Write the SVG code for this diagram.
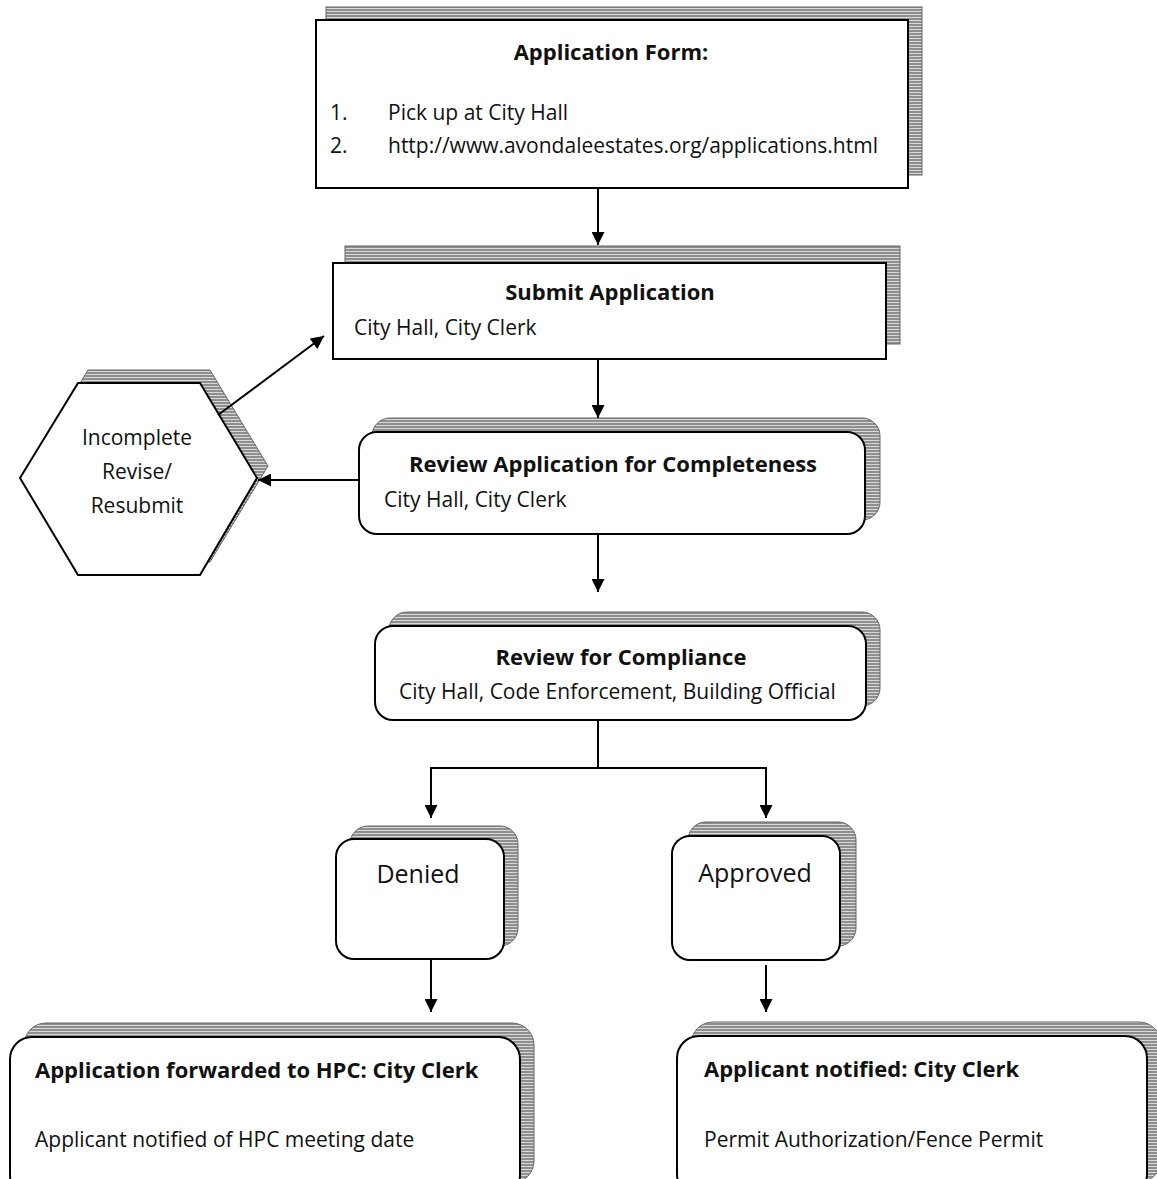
<svg xmlns="http://www.w3.org/2000/svg" width="1157" height="1179" viewBox="0 0 1157 1179">
<style>
.box{fill:#fff;stroke:#000;stroke-width:2}
.sh{fill:url(#hatch);stroke:#666;stroke-width:1}
.t{font-family:"Open Sans","Liberation Sans",sans-serif;font-size:21px;fill:#111}
.b{font-weight:bold;font-size:22px}
.c{text-anchor:middle}
.con{stroke:#000;stroke-width:2;fill:none;marker-end:url(#arr)}
</style>
<defs>
<pattern id="hatch" width="6" height="3" patternUnits="userSpaceOnUse">
<rect width="6" height="3" fill="#d8d8d8"/>
<line x1="0" y1="1" x2="6" y2="1" stroke="#444" stroke-width="1"/>
</pattern>
<marker id="arr" viewBox="0 0 10 10" refX="10" refY="5" markerWidth="14" markerHeight="13" markerUnits="userSpaceOnUse" orient="auto">
<path d="M0,0 L10,5 L0,10 z" fill="#000"/>
</marker>
</defs>

<g id="form">
<rect class="sh" x="326" y="7" width="596" height="168"/>
<rect class="box" x="316" y="20" width="592" height="168"/>
<text class="t b c" x="611" y="60">Application Form:</text>
<text class="t" x="330" y="120">1.</text>
<text class="t" x="388" y="120">Pick up at City Hall</text>
<text class="t" x="330" y="153">2.</text>
<text class="t" x="388" y="153">http://www.avondaleestates.org/applications.html</text>
</g>

<g id="submit">
<rect class="sh" x="345" y="246" width="555" height="98"/>
<rect class="box" x="333" y="263" width="553" height="96"/>
<text class="t b c" x="610" y="300">Submit Application</text>
<text class="t" x="354" y="335">City Hall, City Clerk</text>
</g>

<g id="incomplete">
<polygon class="sh" points="30,466 88,370 210,370 268,466 210,562 88,562"/>
<polygon class="box" points="20,478 78,383 200,383 257,478 200,575 78,575"/>
<text class="t c" x="137" y="445">Incomplete</text>
<text class="t c" x="137" y="479">Revise/</text>
<text class="t c" x="137" y="513">Resubmit</text>
</g>

<g id="review">
<rect class="sh" x="372" y="418" width="508" height="102" rx="18"/>
<rect class="box" x="359" y="432" width="506" height="102" rx="18"/>
<text class="t b c" x="613" y="472">Review Application for Completeness</text>
<text class="t" x="384" y="507">City Hall, City Clerk</text>
</g>

<g id="compliance">
<rect class="sh" x="389" y="612" width="491" height="94" rx="18"/>
<rect class="box" x="375" y="626" width="491" height="94" rx="18"/>
<text class="t b c" x="621" y="665">Review for Compliance</text>
<text class="t" x="399" y="699">City Hall, Code Enforcement, Building Official</text>
</g>

<g id="denied">
<rect class="sh" x="350" y="826" width="168" height="120" rx="18"/>
<rect class="box" x="336" y="839" width="168" height="120" rx="18"/>
<text class="t c" x="418" y="883" style="font-size:25px">Denied</text>
</g>

<g id="approved">
<rect class="sh" x="688" y="822" width="168" height="124" rx="18"/>
<rect class="box" x="672" y="836" width="168" height="124" rx="18"/>
<text class="t c" x="755" y="882" style="font-size:25px">Approved</text>
</g>

<g id="forwarded">
<rect class="sh" x="24" y="1023" width="510" height="160" rx="22"/>
<rect class="box" x="10" y="1037" width="510" height="160" rx="22"/>
<text class="t b" x="35" y="1078">Application forwarded to HPC: City Clerk</text>
<text class="t" x="35" y="1147">Applicant notified of HPC meeting date</text>
</g>

<g id="notified">
<rect class="sh" x="691" y="1022" width="470" height="160" rx="22"/>
<rect class="box" x="677" y="1036" width="470" height="160" rx="22"/>
<text class="t b" x="704" y="1077">Applicant notified: City Clerk</text>
<text class="t" x="704" y="1147">Permit Authorization/Fence Permit</text>
</g>

<g id="connectors">
<line class="con" x1="598" y1="188" x2="598" y2="245"/>
<line class="con" x1="598" y1="359" x2="598" y2="418"/>
<line class="con" x1="359" y1="480" x2="258" y2="480"/>
<line class="con" x1="218" y1="415" x2="324" y2="336"/>
<line class="con" x1="598" y1="534" x2="598" y2="592"/>
<polyline style="stroke:#000;stroke-width:2;fill:none" points="598,720 598,768 431,768"/>
<line style="stroke:#000;stroke-width:2" x1="598" y1="768" x2="766" y2="768"/>
<line class="con" x1="431" y1="767" x2="431" y2="818"/>
<line class="con" x1="766" y1="767" x2="766" y2="818"/>
<line class="con" x1="431" y1="960" x2="431" y2="1012"/>
<line class="con" x1="766" y1="965" x2="766" y2="1012"/>
</g>
</svg>
